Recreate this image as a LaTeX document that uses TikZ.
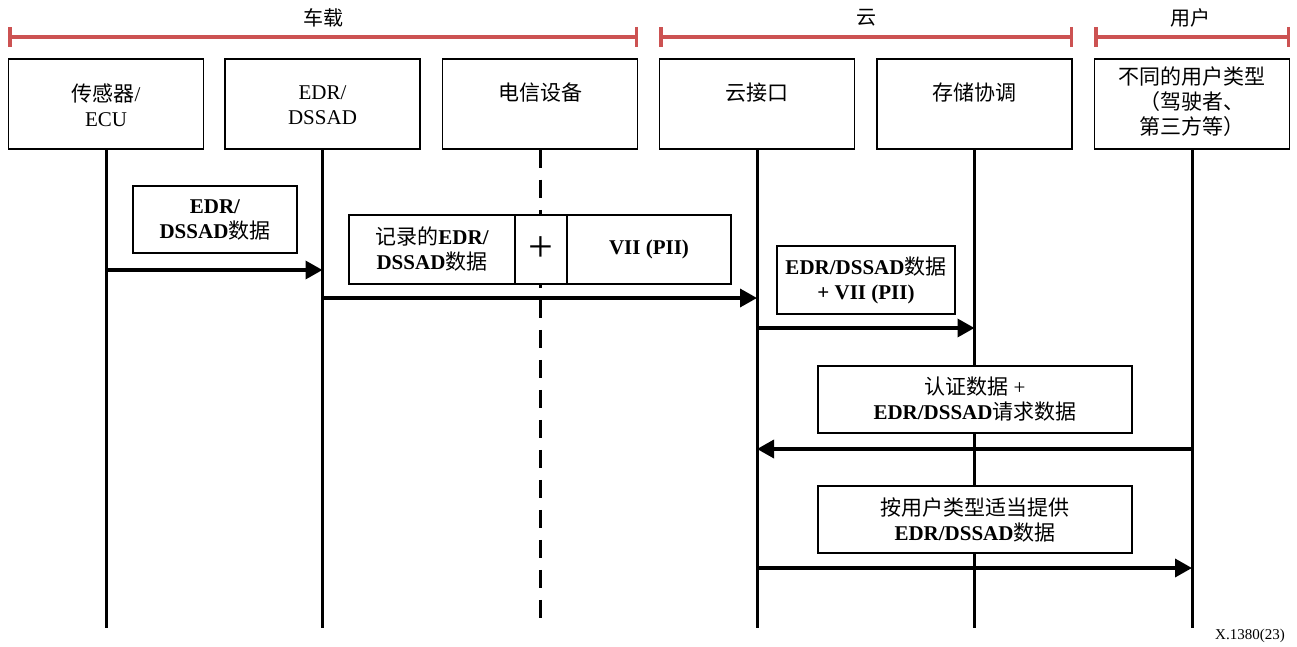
\documentclass[tikz,border=0pt]{standalone}
\usepackage{fontspec}
\setmainfont{Liberation Serif}
\newfontfamily\cjk{Noto Sans CJK SC}
\newcommand\zh[1]{{\cjk\mdseries #1}}
\usetikzlibrary{arrows.meta}
\definecolor{brkred}{RGB}{204,82,82}
\begin{document}
\begin{tikzpicture}[x=1pt,y=-1pt,
  every node/.style={font=\fontsize{21}{25}\selectfont},
  hdr/.style={draw,line width=1.5pt,minimum width=195pt,minimum height=90pt,inner sep=0pt},
  htxt/.style={align=center,inner sep=0pt},
  msg/.style={draw,line width=1.3pt,fill=white,align=center,inner sep=0pt,
    font=\fontsize{21}{25}\selectfont\bfseries},
  life/.style={line width=3pt},
  dlife/.style={line width=3pt,dash pattern=on 18pt off 12pt},
  arr/.style={line width=3.5pt,-{Triangle[length=17pt,width=18pt]}},
  brk/.style={draw=brkred,line width=3.5pt,{Bar[width=20pt]}-{Bar[width=20pt]}},
  grp/.style={inner sep=0pt,font=\fontsize{20}{24}\selectfont\cjk}
]
\useasboundingbox (0,0) rectangle (1297,647);

% group brackets
\coordinate (b1a) at (8,37);   \coordinate (b1b) at (638,37);
\coordinate (b2a) at (659,37); \coordinate (b2b) at (1073,37);
\coordinate (b3a) at (1094,37);\coordinate (b3b) at (1290,37);
\draw[brk] (b1a) -- (b1b);
\draw[brk] (b2a) -- (b2b);
\draw[brk] (b3a) -- (b3b);
\node[grp] (g1) at (323,18) {车载};
\node[grp] (g2) at (866,18) {云};
\node[grp] (g3) at (1190,18) {用户};

% headers
\node[hdr] (h1) at (106,104) {};
\node[hdr] (h2) at (322.5,104) {};
\node[hdr] (h3) at (540,104) {};
\node[hdr] (h4) at (757,104) {};
\node[hdr] (h5) at (974.5,104) {};
\node[hdr] (h6) at (1192,104) {};
\node[htxt] (t1) at (106,105.5) {\zh{传感器}/\\ECU};
\node[htxt] (t2) at (322.5,105.5) {EDR/\\DSSAD};
\node[htxt] (t3) at (540,93) {\zh{电信设备}};
\node[htxt] (t4) at (757,93) {\zh{云接口}};
\node[htxt] (t5) at (974.5,93) {\zh{存储协调}};
\node[htxt] (t6) at (1192,102) {\zh{不同的用户类型}\\\zh{（驾驶者、}\\\zh{第三方等）}};

% lifelines
\coordinate (z) at (0,628);
\draw[life] (h1.south) -- (h1.south |- z);
\draw[life] (h2.south) -- (h2.south |- z);
\draw[dlife] (h3.south) -- (h3.south |- z);
\draw[life] (h4.south) -- (h4.south |- z);
\draw[life] (h5.south) -- (h5.south |- z);
\draw[life] (h6.south) -- (h6.south |- z);

% messages
\coordinate (r1) at (0,270);
\coordinate (r2) at (0,298);
\coordinate (r3) at (0,328);
\coordinate (r4) at (0,449);
\coordinate (r5) at (0,568);
\draw[arr] (h1.south |- r1) -- (h2.south |- r1);
\draw[arr] (h2.south |- r2) -- (h4.south |- r2);
\draw[arr] (h4.south |- r3) -- (h5.south |- r3);
\draw[arr] (h6.south |- r4) -- (h4.south |- r4);
\draw[arr] (h4.south |- r5) -- (h6.south |- r5);

% message boxes
\node[msg,minimum width=164pt,minimum height=67pt] (m1) at (215,219.5) {EDR/\\DSSAD\zh{数据}};
\node[msg,minimum width=166pt,minimum height=69pt] (m2a) at (432,249.5) {\zh{记录的}EDR/\\DSSAD\zh{数据}};
\node[msg,minimum width=52pt,minimum height=69pt,font=\fontsize{44}{44}\selectfont\mdseries] (m2b) at (541,249.5) {+};
\node[msg,minimum width=164pt,minimum height=69pt] (m2c) at (649,249.5) {VII (PII)};
\node[msg,minimum width=178pt,minimum height=68pt] (m3) at (866,280) {EDR/DSSAD\zh{数据}\\+ VII (PII)};
\node[msg,minimum width=314pt,minimum height=67pt] (m4) at (975,399.5) {\zh{认证数据} {\mdseries +}\\EDR/DSSAD\zh{请求数据}};
\node[msg,minimum width=314pt,minimum height=67pt] (m5) at (975,519.5) {\zh{按用户类型适当提供}\\EDR/DSSAD\zh{数据}};

\node[inner sep=0pt,font=\fontsize{15}{15}\selectfont] (fn) at (1250,636) {X.1380(23)};
\end{tikzpicture}
\end{document}
